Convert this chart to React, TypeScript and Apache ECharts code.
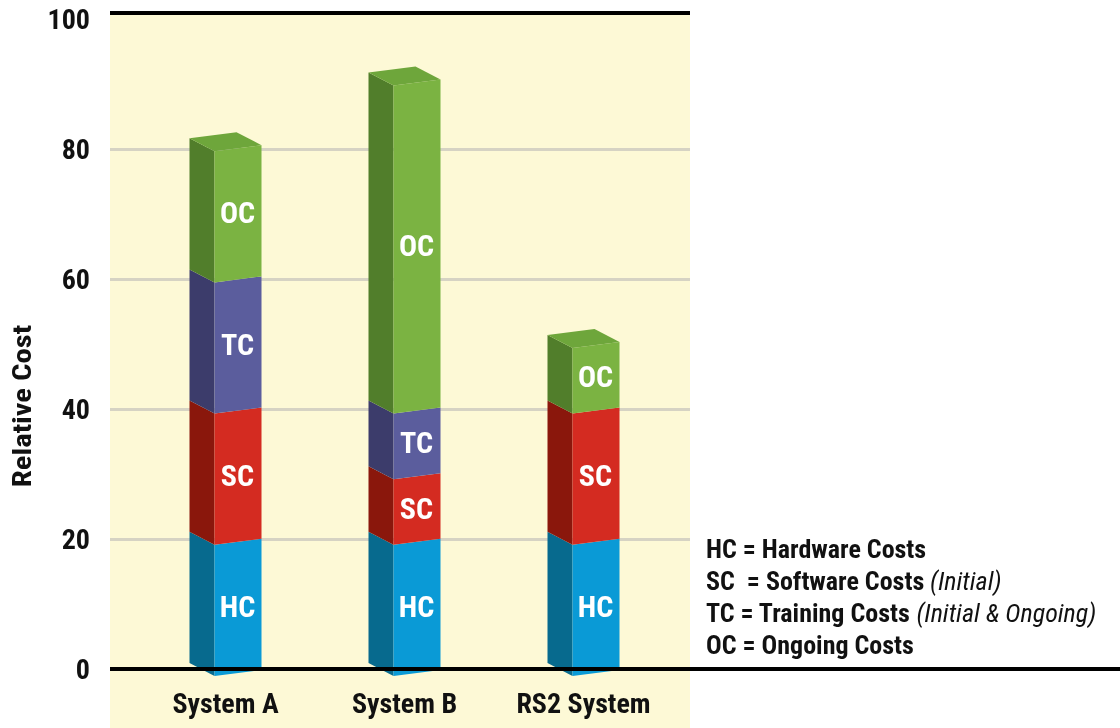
import React, { useEffect, useRef } from "react";
import * as echarts from "echarts";

const categories = ["System A", "System B", "RS2 System"];
const segmentNames = ["HC", "SC", "TC", "OC"];
const hcValues = [20, 20, 20];
const scValues = [20, 10, 20];
const tcValues = [20, 10, 0];
const ocValues = [20, 50, 10];
const yTicks = { min: 0, max: 100, interval: 20 };
const legendLines = [
  { code: "HC", sep: " = ", text: "Hardware Costs", note: "" },
  { code: "SC", sep: "  = ", text: "Software Costs", note: "(Initial)" },
  { code: "TC", sep: " = ", text: "Training Costs", note: "(Initial & Ongoing)" },
  { code: "OC", sep: " = ", text: "Ongoing Costs", note: "" },
];

const FONT = '"Roboto Condensed", "Roboto", sans-serif';
const frontColors = ["#0a9ad6", "#d42b21", "#5b5d9d", "#7bb342"];
const sideColors = ["#076a8e", "#8a170c", "#3c3c6b", "#517e2b"];
const topColors = ["#0a8cc4", "#c02419", "#525494", "#6ea63b"];

export default function App() {
  const ref = useRef<HTMLDivElement>(null);
  useEffect(() => {
    const chart = echarts.init(ref.current!, null, { renderer: "svg" });
    const series = [hcValues, scValues, tcValues, ocValues];
    const data: number[][] = [];
    categories.forEach((_, i) => {
      let c = 0;
      let lastK = -1;
      series.forEach((arr, k) => {
        if (arr[i] > 0) lastK = k;
      });
      series.forEach((arr, k) => {
        const v = arr[i];
        if (v > 0) {
          data.push([i, c, c + v, k, k === lastK ? 1 : 0]);
          c += v;
        }
      });
    });

    const renderItem = (params: any, api: any) => {
      const i = api.value(0);
      const b = api.value(1);
      const t = api.value(2);
      const k = api.value(3);
      const isTop = api.value(4);
      const pT = api.coord([i, t]);
      const pB = api.coord([i, b]);
      const cx = pT[0];
      const yT = pT[1];
      const yB = pB[1];
      const children: any[] = [
        {
          type: "polygon",
          shape: { points: [[cx - 36, yB - 6], [cx - 11, yB + 7], [cx - 11, yT + 7], [cx - 36, yT - 6]] },
          style: { fill: sideColors[k] },
        },
        {
          type: "polygon",
          shape: { points: [[cx - 11, yB + 7], [cx + 36, yB + 1], [cx + 36, yT + 1], [cx - 11, yT + 7]] },
          style: { fill: frontColors[k] },
        },
      ];
      if (isTop) {
        children.push({
          type: "polygon",
          shape: { points: [[cx - 36, yT - 6], [cx - 11, yT + 7], [cx + 36, yT + 1], [cx + 11, yT - 12]] },
          style: { fill: topColors[k] },
        });
      }
      children.push({
        type: "text",
        x: cx + 12,
        y: (yT + yB) / 2 + 3,
        style: {
          text: segmentNames[k],
          fill: "#ffffff",
          font: `bold 30px ${FONT}`,
          align: "center",
          verticalAlign: "middle",
        },
      });
      return { type: "group", children };
    };

    chart.setOption({
      animation: false,
      grid: [
        { left: 110, top: 19, width: 580, height: 650 },
        { left: 136, top: 13, width: 537, height: 656 },
      ],
      xAxis: [
        { type: "category", gridIndex: 0, data: categories, show: false },
        {
          type: "category",
          gridIndex: 1,
          data: categories,
          axisLine: { show: false },
          axisTick: { show: false },
          axisLabel: { margin: 20, color: "#111", fontFamily: FONT, fontWeight: "bold", fontSize: 28 },
        },
      ],
      yAxis: [
        {
          type: "value",
          gridIndex: 0,
          ...yTicks,
          axisLine: { show: false },
          axisTick: { show: false },
          splitLine: { show: true, showMaxLine: false, lineStyle: { color: "#d6d3c3", width: 3 } },
          axisLabel: { margin: 20, color: "#111", fontFamily: FONT, fontWeight: "bold", fontSize: 28 },
        },
        { type: "value", gridIndex: 1, ...yTicks, show: false, splitLine: { show: false } },
      ],
      graphic: [
        { type: "rect", z: -1, silent: true, shape: { x: 110, y: 13, width: 580, height: 715 }, style: { fill: "#fdf9d6" } },
        { type: "line", z: 10, silent: true, shape: { x1: 110, y1: 13, x2: 690, y2: 13 }, style: { stroke: "#000", lineWidth: 4 } },
        { type: "line", z: 10, silent: true, shape: { x1: 110, y1: 669, x2: 1120, y2: 669 }, style: { stroke: "#000", lineWidth: 4 } },
        {
          type: "text",
          x: 22,
          y: 406,
          rotation: Math.PI / 2,
          scaleX: 1.18,
          style: { text: "Relative Cost", font: `bold 26px ${FONT}`, fill: "#111", align: "center", verticalAlign: "middle" },
        },
        ...legendLines.map((l, idx) => ({
          type: "text",
          x: 706,
          y: 549 + idx * 32,
          style: {
            text: `{b|${l.code}${l.sep}${l.text}}` + (l.note ? `{i| ${l.note}}` : ""),
            align: "left",
            verticalAlign: "middle",
            rich: {
              b: { font: `bold 26px ${FONT}`, fill: "#111", color: "#111" },
              i: { font: `italic 26px ${FONT}`, fill: "#111", color: "#111" },
            },
          },
        })),
      ],
      series: [
        {
          type: "custom",
          xAxisIndex: 1,
          yAxisIndex: 1,
          renderItem,
          encode: { x: 0, y: [1, 2] },
          data,
          z: 5,
        },
      ],
    });
    return () => chart.dispose();
  }, []);
  return <div ref={ref} style={{ position: "fixed", left: 0, top: 0, width: 1120, height: 728 }} />;
}
